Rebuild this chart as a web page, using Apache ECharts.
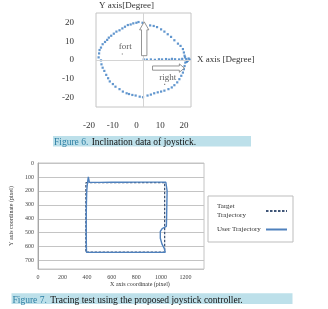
<!DOCTYPE html>
<html>
<head>
<meta charset="utf-8">
<script src="https://cdn.jsdelivr.net/npm/echarts@6/dist/echarts.min.js"></script>
<style>
html, body { margin: 0; padding: 0; background: #fff; }
#chart { width: 328px; height: 309px; }
</style>
</head>
<body>
<div id="chart"></div>
<script>
// Figure 6 - joystick inclination samples (degrees)
const incX = [-2.1, -3.0, -4.3, -5.4, -6.6, -7.8, -8.9, -10.1, -11.4, -12.5, -13.6, -14.6, -15.3, -16.2, -17.2, -17.9, -18.5, -18.7, -18.9,
  -17.9, -17.7, -17.2, -16.5, -15.7, -14.9, -14.2, -12.9, -11.8, -10.1, -8.7, -7.1, -6.1, -4.7, -3.3, -1.6, -0.2,
  1.7, 3.1, 4.5, 6.0, 7.4, 8.8, 10.5, 11.9, 13.0, 14.2, 15.1, 15.9, 16.6, 17.0, 17.3, 17.6,
  17.3, 17.0, 16.6, 15.6, 14.5, 13.0, 11.6, 10.2, 8.8, 7.4, 5.7, 4.3, 2.8, -0.4,
  0.1, 1.4, 3.1, 4.8, 6.5, 7.8, 9.5, 10.8, 12.0, 13.3, 15.0, 16.3, 18.0,
  17.5, 18.6, 19.0, 18.2, 19.4];
const incY = [20.2, 19.8, 19.5, 18.9, 18.6, 17.7, 16.8, 15.8, 15.1, 14.0, 12.9, 11.9, 10.7, 9.6, 8.4, 6.6, 5.3, 3.5, 1.4,
  -0.2, -2.3, -4.1, -5.8, -7.9, -9.7, -11.4, -12.8, -14.2, -15.5, -16.8, -17.7, -18.1, -18.6, -18.9, -19.5, -19.8,
  -18.9, -18.4, -17.7, -17.2, -16.8, -16.3, -15.5, -14.6, -13.4, -11.9, -10.2, -8.4, -6.7, -4.9, -3.2, -1.4,
  2.3, 4.0, 5.8, 7.5, 8.7, 10.5, 12.3, 13.7, 15.1, 16.3, 17.5, 18.1, 18.4, 19.8,
  0.3, 0.2, 0.3, 0.1, 0.4, 0.3, 0.5, 0.2, 0.6, 0.4, 0.3, 0.6, 0.5,
  1.4, -0.5, 0.8, -1.0, 0.2];
const incTicks = [-20, -10, 0, 10, 20];

// text notes inside figure 6
const noteText = ['fort', 'right'];
const noteX = [-8.9, 8.9];
const noteY = [3.2, -13.0];

// block arrows (degrees): from -> to
const arrowFrom = [[0.3, 2.3], [3.8, -4.3]];
const arrowTo = [[0.3, 20.3], [17.2, -4.3]];

// Figure 7 - tracing test (pixels)
const targetX = [390, 1030, 1030, 390, 390];
const targetY = [140, 140, 640, 640, 140];
const userX = [402, 410, 418, 500, 600, 700, 800, 900, 1000, 1040, 1048, 1050, 1048, 1046, 1044, 1010, 995, 995, 1008, 1028, 1035, 900, 700, 500, 395, 394, 393, 393, 394, 397, 402];
const userY = [150, 100, 138, 139, 137, 138, 137, 137, 137, 138, 150, 200, 300, 400, 455, 470, 490, 540, 580, 615, 640, 641, 641, 641, 640, 600, 500, 400, 300, 200, 150];
const traceXTicks = [0, 200, 400, 600, 800, 1000, 1200];
const traceYTicks = [0, 100, 200, 300, 400, 500, 600, 700];

const serif = '"Liberation Serif", "DejaVu Serif", serif';
const chart = echarts.init(document.getElementById('chart'));

const option = {
    animation: false,
    grid: [
        { left: 96, top: 13, width: 95, height: 94, show: true, borderColor: '#c4c4c4', borderWidth: 1 },
        { left: 30, top: 163, width: 174, height: 106, show: true, borderColor: '#c4c4c4', borderWidth: 1 }
    ],
    xAxis: [
        {
            gridIndex: 0, type: 'value', min: -20, max: 20, interval: 10,
            axisLine: { show: false }, axisTick: { show: false }, splitLine: { show: false },
            axisLabel: { margin: 14, padding: [0, 14, 0, 0], fontFamily: serif, fontSize: 9, color: '#333' },
            name: 'X axis [Degree]', nameLocation: 'end', nameGap: 6,
            nameTextStyle: { fontFamily: serif, fontSize: 9, color: '#333', padding: [36, 0, 0, 0] }
        },
        {
            gridIndex: 1, type: 'value', min: 0, max: 1350,
            axisLine: { show: false }, axisTick: { show: false }, splitLine: { show: false },
            axisLabel: { customValues: traceXTicks, formatter: v => String(v), margin: 5, fontFamily: serif, fontSize: 6, color: '#444' },
            name: 'X axis coordinate (pixel)', nameLocation: 'middle', nameGap: 12,
            nameTextStyle: { fontFamily: serif, fontSize: 6, color: '#333', padding: [0, 0, 0, 38] }
        }
    ],
    yAxis: [
        {
            gridIndex: 0, type: 'value', min: -25, max: 25,
            axisLine: { show: false }, axisTick: { show: false }, splitLine: { show: false },
            axisLabel: { customValues: incTicks, margin: 22, padding: [0, 0, 8, 0], fontFamily: serif, fontSize: 9, color: '#333' },
            name: 'Y axis[Degree]', nameLocation: 'end', nameGap: 3,
            nameTextStyle: { fontFamily: serif, fontSize: 9, color: '#333', padding: [0, 34, 0, 0] }
        },
        {
            gridIndex: 1, type: 'value', min: 0, max: 760, interval: 100, inverse: true,
            axisLine: { show: true, lineStyle: { color: '#a6a6a6' } }, axisTick: { show: false },
            splitLine: { show: true, lineStyle: { color: '#c4c4c4', width: 1 } },
            axisLabel: { customValues: traceYTicks, margin: 4, fontFamily: serif, fontSize: 6, color: '#444' },
            name: 'Y axis coordinate (pixel)', nameLocation: 'middle', nameGap: 13,
            nameTextStyle: { fontFamily: serif, fontSize: 6, color: '#333' }
        }
    ],
    legend: {
        data: ['Target Trajectory', 'User Trajectory'],
        orient: 'vertical', left: 208, top: 196,
        align: 'right', itemWidth: 21, itemHeight: 6, itemGap: 5,
        padding: [6, 5, 8, 9],
        borderColor: '#bdbdbd', borderWidth: 1,
        itemStyle: { opacity: 0 },
        formatter: name => name === 'Target Trajectory' ? '{t|Target}\n{t|Trajectory}' : '{t|' + name + '}',
        textStyle: {
            fontFamily: serif, fontSize: 7, color: '#333', lineHeight: 9,
            rich: { t: { width: 44, align: 'left', fontFamily: serif, fontSize: 7, color: '#333', lineHeight: 9 } }
        }
    },
    series: [
        {
            name: 'Inclination', type: 'scatter', xAxisIndex: 0, yAxisIndex: 0,
            symbol: 'rect', symbolSize: 2.2,
            itemStyle: { color: '#3a7cc2' },
            data: incX.map((x, i) => [x, incY[i]]),
            markLine: {
                silent: true, symbol: 'none', label: { show: false },
                lineStyle: { color: '#d4d4d4', type: 'solid', width: 1 },
                data: [{ xAxis: 0 }, { yAxis: 0 }]
            }
        },
        {
            name: 'Notes', type: 'scatter', xAxisIndex: 0, yAxisIndex: 0,
            symbol: 'rect', symbolSize: 1.2, itemStyle: { color: '#666' },
            data: noteText.map((t, i) => ({ name: t, value: [noteX[i], noteY[i]] })),
            label: {
                show: true, position: 'top', distance: 2, formatter: '{b}',
                fontFamily: serif, fontSize: 9, color: '#333', offset: [3, 0]
            }
        },
        {
            name: 'Target Trajectory', type: 'line', xAxisIndex: 1, yAxisIndex: 1,
            symbol: 'none', color: '#3f5577',
            lineStyle: { color: '#3f5577', width: 1.3, type: [2.5, 1.5] },
            data: targetX.map((x, i) => [x, targetY[i]])
        },
        {
            name: 'User Trajectory', type: 'line', xAxisIndex: 1, yAxisIndex: 1,
            symbol: 'none', color: '#4f81bd',
            lineStyle: { color: '#4f81bd', width: 1.4 },
            data: userX.map((x, i) => [x, userY[i]])
        }
    ],
    graphic: [
        { type: 'rect', left: 53, top: 136, shape: { width: 198, height: 10.5 }, style: { fill: '#bde0ea' } },
        {
            type: 'text', left: 54, top: 136.5,
            style: {
                text: '{a|Figure 6.} {b|Inclination data of joystick.}',
                rich: {
                    a: { fontFamily: serif, fontSize: 9.5, fill: '#2c7ea3' },
                    b: { fontFamily: serif, fontSize: 9.5, fill: '#111' }
                }
            }
        },
        { type: 'rect', left: 11.5, top: 293.3, shape: { width: 281, height: 10.7 }, style: { fill: '#bde0ea' } },
        {
            type: 'text', left: 12.5, top: 294,
            style: {
                text: '{a|Figure 7.} {b|Tracing test using the proposed joystick controller.}',
                rich: {
                    a: { fontFamily: serif, fontSize: 9.5, fill: '#2c7ea3' },
                    b: { fontFamily: serif, fontSize: 9.5, fill: '#111' }
                }
            }
        }
    ]
};
chart.setOption(option);

// outlined block arrows, placed from data coordinates
function arrowPoints(from, to, shaftHalf, headHalf, headLen) {
    const p0 = chart.convertToPixel({ gridIndex: 0 }, from);
    const p1 = chart.convertToPixel({ gridIndex: 0 }, to);
    const dx = p1[0] - p0[0], dy = p1[1] - p0[1];
    const len = Math.hypot(dx, dy);
    const ux = dx / len, uy = dy / len;
    const nx = -uy, ny = ux;
    const bx = p1[0] - ux * headLen, by = p1[1] - uy * headLen;
    return [
        [p0[0] + nx * shaftHalf, p0[1] + ny * shaftHalf],
        [bx + nx * shaftHalf, by + ny * shaftHalf],
        [bx + nx * headHalf, by + ny * headHalf],
        p1,
        [bx - nx * headHalf, by - ny * headHalf],
        [bx - nx * shaftHalf, by - ny * shaftHalf],
        [p0[0] - nx * shaftHalf, p0[1] - ny * shaftHalf]
    ];
}
const arrowSizes = [[2.7, 4.6, 8], [2.1, 4.2, 5]];
const arrows = arrowFrom.map((f, i) => ({
    type: 'polygon', z: 10,
    shape: { points: arrowPoints(f, arrowTo[i], arrowSizes[i][0], arrowSizes[i][1], arrowSizes[i][2]) },
    style: { fill: '#fff', stroke: '#7a7a7a', lineWidth: 0.8 }
}));
chart.setOption({ graphic: option.graphic.concat(arrows) });
</script>
</body>
</html>
